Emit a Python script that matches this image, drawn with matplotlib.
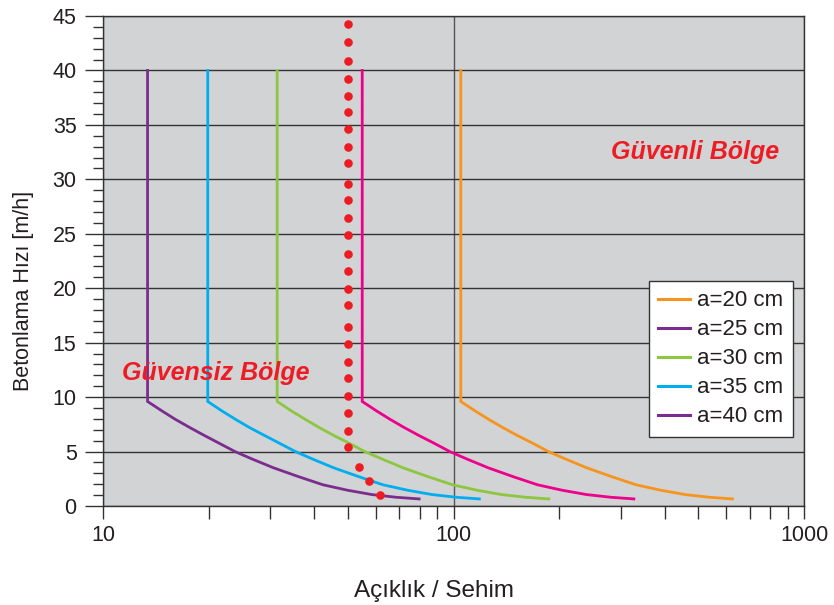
import matplotlib
matplotlib.use("Agg")
import matplotlib.pyplot as plt
from matplotlib.ticker import MultipleLocator, LogLocator, NullFormatter, FixedLocator
from matplotlib.lines import Line2D

plt.rcParams['font.family'] = ['Liberation Sans', 'DejaVu Sans']

# beton dökme hızı (y) - ortak, dikey kısım 40'tan dirseğe kadar
rate = [40, 9.6, 8.75, 7.95, 7.2, 6.5, 5.85, 5.0, 4.3, 3.5, 2.7, 1.95, 1.45, 1.05, 0.8, 0.65]

# açıklık / sehim değerleri, her eğri için
span_a20 = [104.9, 104.9, 115.0, 126.1, 138.3, 151.6, 166.3, 186.5, 209.3, 240.3, 282.3, 331.7, 389.7, 457.9, 538.0, 624.8]
span_a25 = [54.9, 54.9, 60.2, 66.0, 72.4, 79.4, 87.0, 97.6, 109.5, 125.8, 147.8, 173.6, 204.0, 239.6, 281.6, 327.0]
span_a30 = [31.4, 31.4, 34.4, 37.8, 41.4, 45.4, 49.8, 55.8, 62.7, 71.9, 84.5, 99.3, 116.7, 137.1, 161.0, 187.0]
span_a35 = [19.9, 19.9, 21.8, 23.9, 26.2, 28.8, 31.5, 35.4, 39.7, 45.6, 53.6, 62.9, 73.9, 86.9, 102.1, 118.5]
span_a40 = [13.4, 13.4, 14.7, 16.1, 17.7, 19.4, 21.2, 23.8, 26.7, 30.7, 36.1, 42.4, 49.8, 58.5, 68.7, 79.8]

# sınır (kırmızı noktalar)
limit_x = [50, 50, 50, 50, 50, 50, 50, 50, 50, 50, 50, 50, 50, 50, 50, 50,
           50, 50, 50, 50, 50, 50, 50, 50, 50, 53.6, 57.4, 61.6]
limit_y = [44.27, 42.62, 40.91, 39.26, 37.66, 36.17, 34.64, 32.98, 31.49, 29.59,
           28.07, 26.42, 24.89, 23.12, 21.61, 19.96, 18.44, 16.42, 14.92, 13.26,
           11.74, 10.09, 8.56, 6.91, 5.41, 3.58, 2.29, 0.97]

labels = ['a=20 cm', 'a=25 cm', 'a=30 cm', 'a=35 cm', 'a=40 cm']
curve_colors = ['#F7941D', '#EC008C', '#8DC63F', '#00AEEF', '#7B2D8E']
legend_colors = ['#F7941D', '#7B2D8E', '#8DC63F', '#00AEEF', '#7B2D8E']

fig = plt.figure(figsize=(8.34, 6.05), dpi=100)
ax = fig.add_axes([103 / 834, 1 - 506 / 605, 701 / 834, 490 / 605])
ax.set_facecolor('#D1D3D4')

spans = [span_a20, span_a25, span_a30, span_a35, span_a40]
for xs, c in zip(spans, curve_colors):
    ax.plot(xs, rate, color=c, lw=2, zorder=3, solid_joinstyle='miter')

ax.plot(limit_x, limit_y, 'o', color='#ED1C24', ms=6.2, mec='none', zorder=4)

ax.set_xscale('log')
ax.set_xlim(10, 1000)
ax.set_ylim(0, 45)

ax.xaxis.set_major_locator(FixedLocator([10, 100, 1000]))
ax.xaxis.set_major_formatter(matplotlib.ticker.FuncFormatter(lambda v, p: '%d' % v))
ax.xaxis.set_minor_locator(LogLocator(base=10, subs=range(2, 10)))
ax.xaxis.set_minor_formatter(NullFormatter())
ax.yaxis.set_major_locator(MultipleLocator(5))
ax.yaxis.set_minor_locator(MultipleLocator(1))

ax.tick_params(axis='y', which='major', length=13, width=1, color='#333333',
               labelsize=15.5, pad=6, labelcolor='#231F20')
ax.tick_params(axis='y', which='minor', length=7, width=1, color='#333333')
ax.tick_params(axis='x', which='both', length=9, width=1, color='#333333',
               labelsize=15.5, pad=5, labelcolor='#231F20')

ax.grid(axis='y', which='major', color='#333333', lw=1)
ax.grid(axis='x', which='major', color='#555555', lw=1)
ax.set_axisbelow(True)
for s in ax.spines.values():
    s.set_color('#333333')
    s.set_linewidth(1)

ax.text(21.0, 11.6, 'Güvensiz Bölge', color='#ED1C24', fontsize=18,
        fontweight='bold', fontstyle='italic', ha='center', va='baseline', zorder=5)
ax.text(489, 31.9, 'Güvenli Bölge', color='#ED1C24', fontsize=18,
        fontweight='bold', fontstyle='italic', ha='center', va='baseline', zorder=5)

handles = [Line2D([], [], color=c, lw=2.2) for c in legend_colors]
leg = ax.legend(handles, labels, loc='upper left', bbox_to_anchor=(0.779, 0.459),
                borderaxespad=0, fontsize=16, frameon=True, fancybox=False,
                handlelength=1.4, handletextpad=0.35, labelspacing=0.36,
                borderpad=0.42)
leg.get_frame().set_edgecolor('#333333')
leg.get_frame().set_linewidth(1)
leg.get_frame().set_alpha(1)
for t in leg.get_texts():
    t.set_color('#231F20')

fig.text(434 / 834, 1 - 597 / 605, 'Açıklık / Sehim', fontsize=17.5,
         ha='center', va='baseline', color='#231F20')
fig.text(24 / 834, 1 - 291 / 605, 'Betonlama Hızı [m/h]', fontsize=15.5,
         rotation=90, ha='center', va='center', color='#231F20')

fig.savefig('out.png', dpi=100, facecolor='white')
